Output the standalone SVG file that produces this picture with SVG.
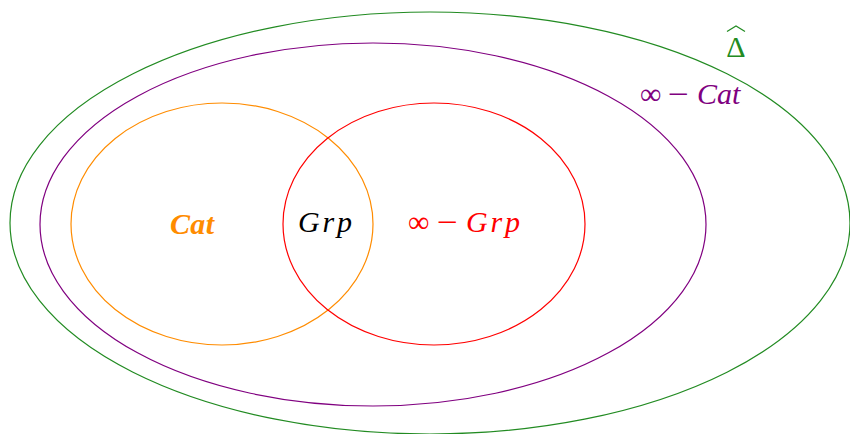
<svg xmlns="http://www.w3.org/2000/svg" width="850" height="434" viewBox="0 0 850 434">
  <style>
    .set { fill: none; stroke-width: 1.2; }
    .lbl { font-family: "Liberation Serif", "Times New Roman", serif; font-size: 30px; }
    .it { font-style: italic; }
  </style>
  <rect width="850" height="434" fill="#ffffff"/>
  <g id="delta-hat">
    <ellipse class="set" cx="430" cy="223" rx="420" ry="211" stroke="#228B22"/>
    <text class="lbl" x="736" y="57" text-anchor="middle" font-size="32" fill="#228B22">Δ</text>
    <path d="M727 31.5 L736 26 L745 31.5" fill="none" stroke="#228B22" stroke-width="1.2"/>
  </g>
  <g id="inf-cat">
    <ellipse class="set" cx="373" cy="224.5" rx="333" ry="181.5" stroke="#800080"/>
    <text class="lbl" y="104" fill="#800080"><tspan x="640">∞</tspan><tspan x="668" textLength="21" lengthAdjust="spacingAndGlyphs">−</tspan><tspan class="it" x="697">Cat</tspan></text>
  </g>
  <g id="cat">
    <ellipse class="set" cx="222" cy="224" rx="151" ry="121" stroke="#FF8C00"/>
    <text class="lbl it" x="170" y="234" font-weight="bold" fill="#FF8C00" textLength="44" lengthAdjust="spacing">Cat</text>
  </g>
  <g id="inf-grp">
    <ellipse class="set" cx="434" cy="224" rx="151" ry="121" stroke="#FF0000"/>
    <text class="lbl" y="232" fill="#FF0000"><tspan x="408">∞</tspan><tspan x="437" textLength="21" lengthAdjust="spacingAndGlyphs">−</tspan><tspan class="it" x="466" textLength="54" lengthAdjust="spacing">Grp</tspan></text>
  </g>
  <g id="grp">
    <text class="lbl it" x="298" y="232" fill="#000000" textLength="54" lengthAdjust="spacing">Grp</text>
  </g>
</svg>
